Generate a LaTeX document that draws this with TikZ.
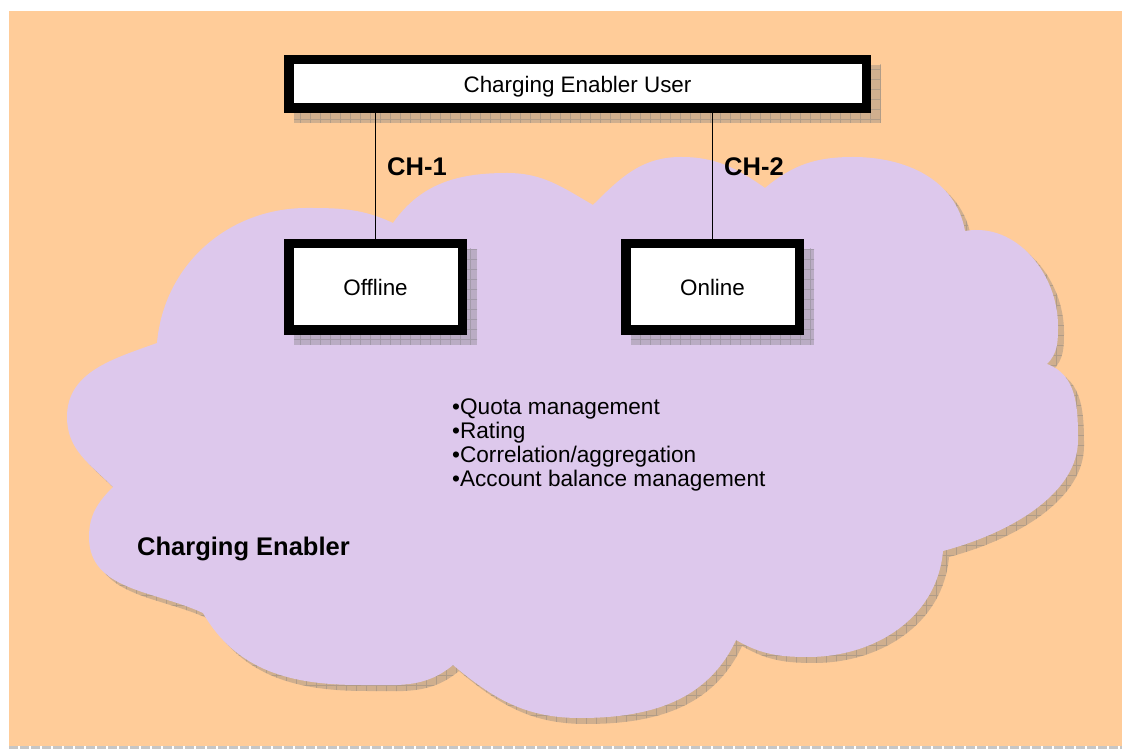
\documentclass[tikz,border=0pt]{standalone}
\usepackage{fontspec}
\setmainfont{Liberation Sans}
\usetikzlibrary{calc}
\pgfdeclarelayer{bglayer}
\pgfdeclarelayer{shadowlayer}
\pgfsetlayers{bglayer,shadowlayer,main}
\definecolor{bgorange}{HTML}{FFCC99}
\definecolor{cloudlav}{HTML}{DDC8EC}
\definecolor{shadowgray}{HTML}{7A7A7A}
\tikzset{
  boxnode/.style={draw=black, line width=9.5pt, fill=white, minimum width=173.5pt, minimum height=86.5pt, inner sep=0pt, text height=22pt, text depth=5pt, font=\fontsize{22.4}{24}\selectfont},
  chlabel/.style={font=\bfseries\fontsize{25.5}{28}\selectfont, anchor=west, inner sep=0pt},
  connector/.style={draw=black, line width=1pt},
  shadowfill/.style={fill=shadowgray, fill opacity=0.35},
  gridline/.style={draw=shadowgray, draw opacity=0.35, line width=0.6pt},
  listtext/.style={font=\fontsize{22.6}{24}\selectfont, align=left, anchor=west, inner sep=0pt},
}
\def\cloudpath{(157,406) to[out=85,in=180] (307,541) to[out=0,in=155] (393,526)
  to[out=55,in=180] (507,576) to[out=0,in=150] (593,544)
  to[out=45,in=180] (681,592) to[out=0,in=145] (765,561)
  to[out=40,in=180] (853,592) to[out=0,in=100] (965,518)
  to[out=10,in=90] (1058,423) to[out=-90,in=45] (1047,385)
  to[out=-20,in=90] (1078,309) to[out=-90,in=15,out looseness=0.75,in looseness=1.1] (943,198)
  to[out=-95,in=0] (808,92) to[out=180,in=-30] (736,109)
  to[out=-115,in=0] (580,31) to[out=180,in=-40] (453,84)
  to[out=-140,in=0] (360,64) to[out=180,in=-60] (203,136)
  to[out=155,in=-90] (89,212) to[out=90,in=-135] (113,262)
  to[out=135,in=-90] (67,332) to[out=90,in=-160] (157,406) -- cycle}
\newcommand{\myshadow}[2]{%
  \begin{scope}
    \clip #1 rectangle #2;
    \fill[shadowfill] #1 rectangle #2;
    \draw[gridline, step=10pt] (0,0) grid (1122,749);
  \end{scope}}
\begin{document}
\begin{tikzpicture}[x=1pt,y=1pt]
\useasboundingbox (0,0) rectangle (1122,749);
\begin{pgfonlayer}{bglayer}
  \fill[white] (0,0) rectangle (1122,749);
  \fill[bgorange] (9,3) rectangle (1122,738);
  \draw[gray!45, line width=2.5pt, dash pattern=on 9pt off 2pt] (9,1.25) -- (1122,1.25);
  % cloud shadow
  \begin{scope}[shift={(6pt,-6pt)}]
    \clip \cloudpath;
    \fill[shadowfill] (-10,-10) rectangle (1130,760);
    \draw[gridline, step=10pt] (-10,-10) grid (1130,760);
  \end{scope}
  % cloud
  \fill[cloudlav] \cloudpath;
\end{pgfonlayer}

\node[boxnode, minimum width=577.5pt, minimum height=48.5pt] (user) at (577.5,665) {Charging Enabler User};
\node[boxnode] (offline) at (375.5,462) {Offline};
\node[boxnode] (online) at (712.5,462) {Online};

\begin{pgfonlayer}{shadowlayer}
  \foreach \n in {user,offline,online}{
    \myshadow{($(\n.south west)+(10,-10)$)}{($(\n.north east)+(10,-10)$)}
  }
\end{pgfonlayer}

\draw[connector] (offline.north) -- (offline.north |- user.south);
\draw[connector] (online.north) -- (online.north |- user.south);

\node[chlabel] (ch1) at (387,582) {CH-1};
\node[chlabel] (ch2) at (724,582) {CH-2};
\node[chlabel, anchor=base west] (ce) at (137,193) {Charging Enabler};
\node[listtext] (list) at (452,304) {•Quota management\\•Rating\\•Correlation/aggregation\\•Account balance management};
\end{tikzpicture}
\end{document}
